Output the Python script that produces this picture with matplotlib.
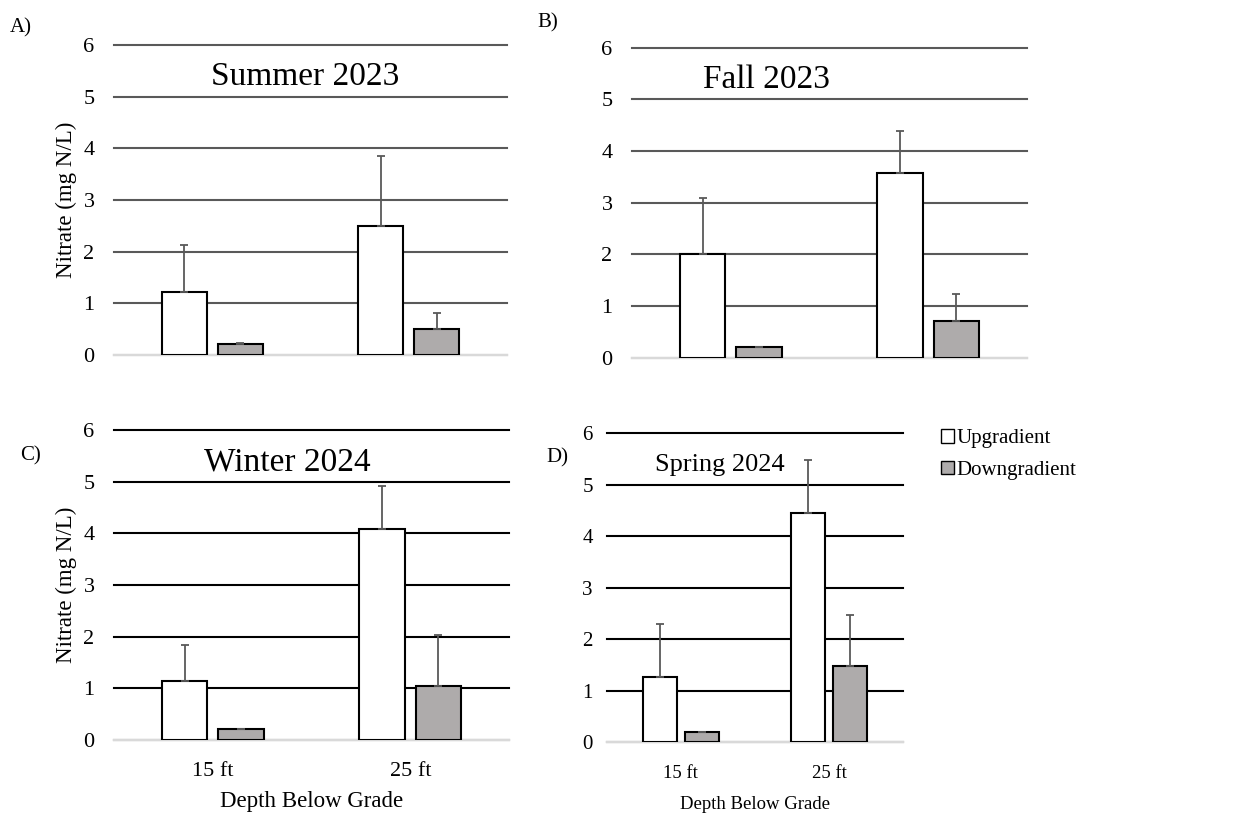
import matplotlib.pyplot as plt
from matplotlib.patches import Patch
import numpy as np

plt.rcParams['font.family'] = ['Liberation Serif', 'DejaVu Serif']

depths = ['15 ft', '25 ft']
seasons = ['Summer 2023', 'Fall 2023', 'Winter 2024', 'Spring 2024']
letters = ['A)', 'B)', 'C)', 'D)']

# mean nitrate (mg N/L) and upper error, per season
up_vals = [[1.21, 2.50], [2.00, 3.57], [1.14, 4.08], [1.27, 4.45]]
up_err = [[0.92, 1.36], [1.10, 0.82], [0.69, 0.84], [1.02, 1.02]]
down_vals = [[0.21, 0.50], [0.20, 0.71], [0.21, 1.05], [0.20, 1.48]]
down_err = [[0.02, 0.32], [0.0, 0.52], [0.0, 0.98], [0.0, 0.99]]

W, H = 1249, 817
fig = plt.figure(figsize=(W / 100, H / 100), dpi=100)

# axes boxes in pixels: left, right, top(6), bottom(0)
boxes = [(114, 507, 45, 355), (632, 1027, 47.7, 357.7),
         (114, 509, 430, 740), (606.7, 903.3, 433, 742.3)]
title_x = [0.486, 0.341, 0.44, 0.381]
title_fs = [24, 24, 24, 19]
grid_col = ['#595959', '#595959', 'black', 'black']
letter_pos = [(10, 28), (537, 23), (20, 456), (546, 458)]

bw = 0.229
off = 0.143
x = np.arange(len(depths))

for i in range(4):
    l, r, t, b = boxes[i]
    ax = fig.add_axes([l / W, 1 - b / H, (r - l) / W, (b - t) / H])
    small = i == 3
    ax.set_axisbelow(True)
    ax.bar(x - off, up_vals[i], bw, color='white', edgecolor='black', linewidth=1.5, zorder=3)
    ax.bar(x + off, down_vals[i], bw, color='#aeabab', edgecolor='black', linewidth=1.5, zorder=3)
    ax.errorbar(x - off, up_vals[i], yerr=[np.zeros(2), up_err[i]], fmt='none',
                ecolor='#595959', elinewidth=1.3, capsize=3, capthick=1.3, zorder=4)
    ax.errorbar(x + off, down_vals[i], yerr=[np.zeros(2), down_err[i]], fmt='none',
                ecolor='#595959', elinewidth=1.3, capsize=3, capthick=1.3, zorder=4)
    ax.set_xlim(-0.5, 1.5)
    ax.set_ylim(0, 6)
    ax.set_yticks(range(7))
    ax.yaxis.grid(True, color=grid_col[i], linewidth=1.5)
    for gl in ax.get_ygridlines():
        gl.set_clip_on(False)
    for s in ['top', 'right', 'left']:
        ax.spines[s].set_visible(False)
    ax.spines['bottom'].set_color('#d9d9d9')
    ax.spines['bottom'].set_linewidth(1.5)
    ax.spines['bottom'].set_zorder(2.5)
    ax.tick_params(axis='y', length=0, pad=14 if not small else 10, labelsize=16 if not small else 15)
    ax.tick_params(axis='x', length=0, pad=16, labelsize=16 if not small else 13.5)
    if i >= 2:
        ax.set_xticks(x)
        ax.set_xticklabels(depths)
        ax.set_xlabel('Depth Below Grade', fontsize=16.5 if not small else 13.5, va='center')
        ax.xaxis.set_label_coords(0.5, -0.2)
    else:
        ax.set_xticks([])
    if i in (0, 2):
        ax.set_ylabel('Nitrate (mg N/L)', fontsize=16.5, va='center')
        ax.yaxis.set_label_coords(-0.12, 0.5)
    ax.text(-0.5 + 2 * title_x[i], 5.38, seasons[i], fontsize=title_fs[i], ha='center', va='center')
    lx, ly = letter_pos[i]
    fig.text(lx / W, 1 - ly / H, letters[i], fontsize=15, ha='left', va='center')

handles = [Patch(facecolor='white', edgecolor='black', linewidth=1),
           Patch(facecolor='#aeabab', edgecolor='black', linewidth=1)]
fig.legend(handles, ['Upgradient', 'Downgradient'], loc='upper left',
           bbox_to_anchor=(922 / W, 1 - 410 / H), frameon=False, fontsize=15,
           handlelength=0.65, handleheight=0.65, handletextpad=0.1, labelspacing=0.6)

fig.savefig('out.png', dpi=100)
